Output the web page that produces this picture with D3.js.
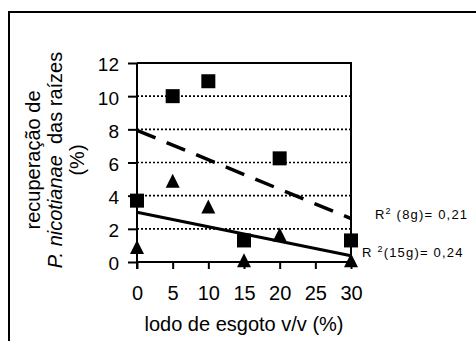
<!DOCTYPE html>
<html>
<head>
<meta charset="utf-8">
<script src="https://cdn.jsdelivr.net/npm/d3@7"></script>
<style>
  html, body { margin: 0; padding: 0; background: #fff; }
  svg { display: block; font-family: Arial, "Liberation Sans", sans-serif; }
</style>
</head>
<body>
<svg id="chart" width="476" height="341"></svg>
<script>
// Sewage sludge dose (% v/v) and root recovery of P. nicotianae (%)
const doses = [0, 5, 10, 15, 20, 30];
const rec8g = [3.7, 10.0, 10.9, 1.3, 6.25, 1.3];   // squares, dashed fit
const rec15g = [0.9, 4.9, 3.35, 0.1, 1.66, 0.1];   // triangles, solid fit
const xTicks = [0, 5, 10, 15, 20, 25, 30];
const yTicks = [0, 2, 4, 6, 8, 10, 12];
const gridValues = [2, 4, 6, 8, 10];
const r2Labels = [
  { base: "R", sup: "2", rest: " (8g)= 0,21", gap: "" },
  { base: "R", sup: "2", rest: "(15g)= 0,24", gap: " " }
];

const svg = d3.select("#chart");

// outer frame (continues past the right and bottom edges)
svg.append("rect")
  .attr("x", 9).attr("y", 12).attr("width", 520).attr("height", 400)
  .attr("fill", "none").attr("stroke", "#000").attr("stroke-width", 2);

const x = d3.scaleLinear().domain([0, 30]).range([137, 351]);
const y = d3.scaleLinear().domain([0, 12]).range([262, 63]);

// dotted gridlines
svg.append("g").selectAll("line").data(gridValues).join("line")
  .attr("x1", x(0)).attr("x2", x(30))
  .attr("y1", d => y(d)).attr("y2", d => y(d))
  .attr("stroke", "#000").attr("stroke-width", 1.6)
  .attr("stroke-dasharray", "2,2");

// plot frame: top and right borders
svg.append("path")
  .attr("d", `M${x(0)},${y(12)}H${x(30)}V${y(0)}`)
  .attr("fill", "none").attr("stroke", "#000").attr("stroke-width", 2);

// y axis
const yAxis = svg.append("g")
  .attr("transform", `translate(${x(0)},0)`)
  .call(d3.axisLeft(y).tickValues(yTicks).tickSize(9).tickPadding(9).tickFormat(d3.format("d")));
yAxis.select(".domain").attr("stroke-width", 2).attr("d", `M0,${y(12)}V${y(0) + 7}`);
yAxis.selectAll(".tick line").attr("stroke-width", 2);
yAxis.selectAll(".tick text")
  .attr("font-size", 19).attr("font-family", "Arial, 'Liberation Sans', sans-serif")
  .attr("fill", "#000").attr("dy", "0.42em");

// x axis
const xAxis = svg.append("g")
  .attr("transform", `translate(0,${y(0)})`)
  .call(d3.axisBottom(x).tickValues(xTicks).tickSize(7).tickPadding(0).tickFormat(d3.format("d")));
xAxis.select(".domain").attr("stroke-width", 2).attr("d", `M${x(0)},0H${x(30)}`);
xAxis.selectAll(".tick line").attr("stroke-width", 2);
xAxis.selectAll(".tick text")
  .attr("font-size", 20).attr("font-family", "Arial, 'Liberation Sans', sans-serif")
  .attr("fill", "#000").attr("y", 38).attr("dy", 0);

// least-squares trend lines
function fit(xs, ys) {
  const mx = d3.mean(xs), my = d3.mean(ys);
  const sxy = d3.sum(xs, (v, i) => (v - mx) * (ys[i] - my));
  const sxx = d3.sum(xs, v => (v - mx) ** 2);
  const b = sxy / sxx;
  return v => my + b * (v - mx);
}
const f8 = fit(doses, rec8g);
const f15 = fit(doses, rec15g);
const line = d3.line().x(d => x(d[0])).y(d => y(d[1]));

svg.append("path")
  .attr("d", line([[0, f8(0)], [30, f8(30)]]))
  .attr("stroke", "#000").attr("stroke-width", 3.5).attr("fill", "none")
  .attr("stroke-dasharray", "20,12");
svg.append("path")
  .attr("d", line([[0, f15(0)], [30, f15(30)]]))
  .attr("stroke", "#000").attr("stroke-width", 3).attr("fill", "none");

// square markers (8g)
const sq = 14;
svg.append("g").selectAll("rect").data(doses).join("rect")
  .attr("x", (d) => x(d) - sq / 2)
  .attr("y", (d, i) => y(rec8g[i]) - sq / 2)
  .attr("width", sq).attr("height", sq).attr("fill", "#000");

// triangle markers (15g)
const tw = 14, th = 14;
svg.append("g").selectAll("path").data(doses).join("path")
  .attr("d", (d, i) => {
    const cx = x(d), cy = y(rec15g[i]);
    return `M${cx},${cy - th / 2}L${cx + tw / 2},${cy + th / 2}L${cx - tw / 2},${cy + th / 2}Z`;
  })
  .attr("fill", "#000");

// R² labels
const r2Pos = [[375, 219], [362, 257]];
r2Labels.forEach((l, i) => {
  const t = svg.append("text")
    .attr("x", r2Pos[i][0]).attr("y", r2Pos[i][1])
    .attr("font-size", 13).attr("letter-spacing", 1.2).attr("fill", "#000")
    .attr("xml:space", "preserve");
  t.append("tspan").text(l.base + l.gap);
  t.append("tspan").attr("font-size", 9).attr("dy", -5).text(l.sup);
  t.append("tspan").attr("dy", 5).text(l.rest);
});

// axis titles
svg.append("text")
  .attr("x", (x(0) + x(30)) / 2).attr("y", 331)
  .attr("text-anchor", "middle").attr("font-size", 20).attr("fill", "#000")
  .text("lodo de esgoto v/v (%)");

const yt = svg.append("g").attr("transform", "translate(0,160) rotate(-90)");
yt.append("text").attr("x", 0).attr("y", 40).attr("text-anchor", "middle")
  .attr("font-size", 20).attr("fill", "#000").text("recuperação de");
const l2 = yt.append("text").attr("x", 0).attr("y", 62).attr("text-anchor", "middle")
  .attr("font-size", 20).attr("fill", "#000").attr("xml:space", "preserve");
l2.append("tspan").attr("font-style", "italic").text("P. nicotianae");
l2.append("tspan").text("  das raízes");
yt.append("text").attr("x", 0).attr("y", 84).attr("text-anchor", "middle")
  .attr("font-size", 20).attr("fill", "#000").text("(%)");
</script>
</body>
</html>
